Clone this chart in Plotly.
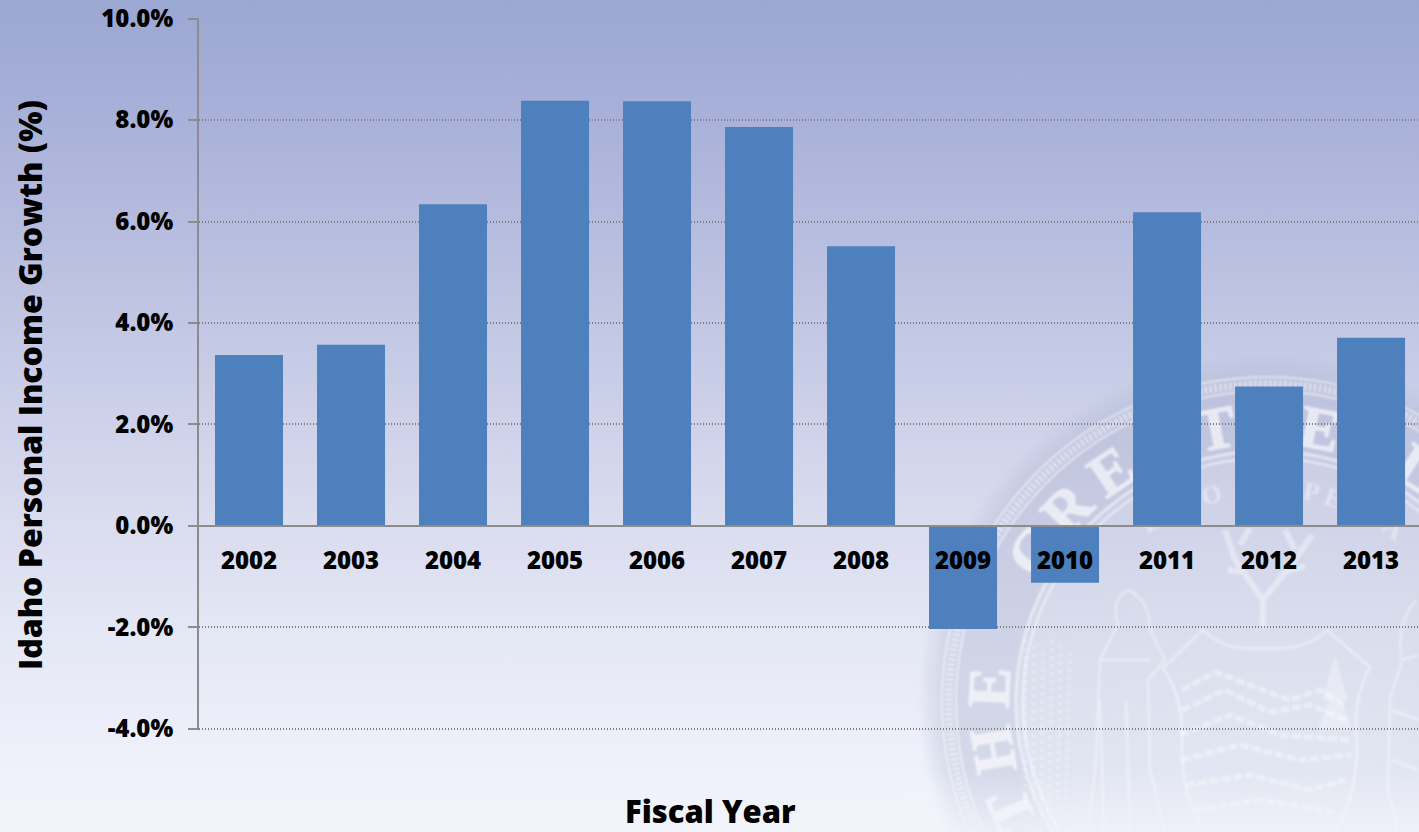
import base64
import math
import plotly.graph_objects as go

# Fiscal years and Idaho personal income growth, percent
fiscal_years = ["2002", "2003", "2004", "2005", "2006", "2007",
                "2008", "2009", "2010", "2011", "2012", "2013"]
income_growth = [3.37, 3.57, 6.34, 8.38, 8.37, 7.86,
                 5.51, -2.03, -1.12, 6.18, 2.75, 3.71]

# Vertical axis ticks
growth_ticks = [-4, -2, 0, 2, 4, 6, 8, 10]
growth_tick_labels = ["-4.0%", "-2.0%", "0.0%", "2.0%", "4.0%", "6.0%", "8.0%", "10.0%"]

# Backdrop: page gradient stops
gradient_stops = [(0.00, "#9BA8D2"), (0.12, "#A6AFD8"), (0.36, "#BFC4E2"),
                  (0.48, "#CBCFE8"), (0.63, "#DADCEF"), (0.77, "#E5E8F5"),
                  (0.91, "#EEF1FA"), (1.00, "#F2F4FB")]

# Lettering of the state seal, each glyph with its clock angle around the ring
seal_letters = [("T", -113), ("H", -100), ("E", -87), ("G", -57), ("R", -46), ("E", -34),
                ("A", -22), ("T", -10.6), ("S", 0.5), ("E", 11), ("A", 22), ("L", 33),
                ("O", 50), ("F", 61)]
motto_letters = [("E", -33), ("S", -27), ("T", -21), ("O", -15), ("P", -6), ("E", 0),
                 ("R", 6), ("P", 12), ("E", 18), ("T", 24), ("U", 30), ("A", 36)]

PAGE_W, PAGE_H = 1419, 832
PLOT_L, PLOT_T, PLOT_B = 199, 18, 102
CX, CY = 1267, 702


def glyph(ch, angle, radius, size):
    a = math.radians(angle)
    x = CX + radius * math.sin(a)
    y = CY - radius * math.cos(a)
    return (f'<text x="{x:.1f}" y="{y:.1f}" font-family="Liberation Serif" font-weight="bold" '
            f'font-size="{size}" text-anchor="middle" transform="rotate({angle} {x:.1f} {y:.1f})">{ch}</text>')


def backdrop_svg():
    stops = "".join(f'<stop offset="{o}" stop-color="{c}"/>' for o, c in gradient_stops)
    letters = "".join(glyph(c, a, 258, 60) for c, a in seal_letters)
    motto = "".join(glyph(c, a, 206, 26) for c, a in motto_letters)
    shield = ("M1163,668 L1203,630 Q1225,652 1263,648 Q1305,652 1327,630 L1370,667 "
              "Q1352,700 1357,740 Q1358,800 1330,840 L1210,840 Q1180,800 1182,740 Q1184,700 1163,668 Z")
    peaks = ("M1182,690 L1215,672 L1250,685 L1290,700 L1320,690 L1345,705 "
             "M1182,710 L1225,690 L1270,712 L1310,705 L1350,722 "
             "M1180,735 L1230,715 L1280,735 L1350,740 "
             "M1182,760 L1240,745 L1300,760 L1352,755 "
             "M1186,785 L1250,775 L1310,790 L1345,780 "
             "M1195,810 L1260,800 L1335,812")
    tree = "M1335,655 L1322,700 L1348,700 Z M1335,680 L1318,730 L1352,730 Z"
    woman = ("M1128,590 Q1110,600 1118,625 L1100,660 L1096,760 L1088,832 M1128,590 Q1150,600 1150,630 "
             "L1165,660 L1148,680 L1150,770 L1165,832 M1100,660 L1150,660 M1100,700 L1104,832 M1126,700 L1130,832")
    man = ("M1416,600 Q1395,625 1402,660 L1390,700 L1388,790 L1398,832 M1402,660 L1419,655 "
           "M1392,710 L1419,720 M1392,760 L1419,770")
    antlers = ("M1263,628 L1263,600 M1263,600 L1235,560 L1225,530 M1263,600 L1295,560 L1312,535 "
               "M1245,572 L1228,570 M1285,572 L1305,566 M1240,545 L1250,528 M1295,550 L1285,530")
    wreath = "".join(
        f'<path d="M{1025 + i * 9},{640 + (i % 3) * 6} L{1025 + i * 8},832" '
        f'stroke-dasharray="3 5" stroke-width="3" fill="none"/>' for i in range(6))
    svg = f'''<svg xmlns="http://www.w3.org/2000/svg" width="{PAGE_W}" height="{PAGE_H}" viewBox="0 0 {PAGE_W} {PAGE_H}">
<defs>
<linearGradient id="page" x1="0" y1="0" x2="0" y2="1">{stops}</linearGradient>
<radialGradient id="disc" gradientUnits="userSpaceOnUse" cx="{CX}" cy="{CY}" r="350">
<stop offset="0" stop-color="#B4BBD2" stop-opacity="0.20"/>
<stop offset="0.70" stop-color="#AEB6D0" stop-opacity="0.22"/>
<stop offset="0.72" stop-color="#A6AECC" stop-opacity="0.36"/>
<stop offset="0.92" stop-color="#A6AECC" stop-opacity="0.36"/>
<stop offset="1" stop-color="#A6AECC" stop-opacity="0"/>
</radialGradient>
<linearGradient id="fade" x1="0" y1="0" x2="0" y2="1">
<stop offset="0" stop-color="#F2F4FB" stop-opacity="0"/>
<stop offset="1" stop-color="#F2F4FB" stop-opacity="0.75"/>
</linearGradient>
<filter id="soft"><feGaussianBlur stdDeviation="0.9"/></filter>
<filter id="softer"><feGaussianBlur stdDeviation="1.3"/></filter>
</defs>
<rect width="{PAGE_W}" height="{PAGE_H}" fill="url(#page)"/>
<circle cx="{CX}" cy="{CY}" r="350" fill="url(#disc)"/>
<g filter="url(#soft)" fill="#FFFFFF" stroke="#FFFFFF" stroke-opacity="0.55" fill-opacity="0.62">
<circle cx="{CX}" cy="{CY}" r="325" fill="none" stroke-width="2"/>
<circle cx="{CX}" cy="{CY}" r="318" fill="none" stroke-width="8" stroke-dasharray="2.5 2.5"/>
<circle cx="{CX}" cy="{CY}" r="311" fill="none" stroke-width="2"/>
<circle cx="{CX}" cy="{CY}" r="251" fill="none" stroke-width="3"/>
<circle cx="{CX}" cy="{CY}" r="244" fill="none" stroke-width="2"/>
<g stroke-width="1.5" stroke-opacity="0.45">{letters}</g>
<g stroke="none" fill-opacity="0.4">{motto}</g>
</g>
<g filter="url(#softer)" fill="#FFFFFF" stroke="#FFFFFF" stroke-opacity="0.38" fill-opacity="0.3">
<path d="{shield}" fill="none" stroke-width="3"/>
<path d="{peaks}" fill="none" stroke-width="5" stroke-dasharray="9 3"/>
<path d="{tree}" stroke="none"/>
<path d="{woman}" fill="none" stroke-width="2.5"/>
<path d="{man}" fill="none" stroke-width="2.5"/>
<path d="{antlers}" fill="none" stroke-width="6"/>
{wreath}
</g>
<rect x="900" y="770" width="{PAGE_W - 900}" height="62" fill="url(#fade)"/>
</svg>'''
    return "data:image/svg+xml;base64," + base64.b64encode(svg.encode()).decode()


plot_w = PAGE_W - PLOT_L
plot_h = PAGE_H - PLOT_T - PLOT_B

FONT = "Open Sans"
GREY = "#8C8C8C"
TICK_FONT = dict(family=FONT, size=24, color="#000000", weight=800)

fig = go.Figure(go.Bar(
    x=fiscal_years,
    y=income_growth,
    width=2 / 3,
    marker=dict(color="#4D80BD", line=dict(width=0)),
    hoverinfo="x+y",
))

fig.update_layout(
    width=PAGE_W,
    height=PAGE_H,
    margin=dict(l=PLOT_L, r=0, t=PLOT_T, b=PLOT_B, autoexpand=False),
    paper_bgcolor="#DADCEF",
    plot_bgcolor="rgba(0,0,0,0)",
    showlegend=False,
    images=[dict(
        source=backdrop_svg(), xref="paper", yref="paper",
        x=-PLOT_L / plot_w, y=1 + PLOT_T / plot_h,
        sizex=PAGE_W / plot_w, sizey=PAGE_H / plot_h,
        xanchor="left", yanchor="top", sizing="stretch", layer="below",
    )],
    xaxis=dict(
        type="category",
        categoryorder="array",
        categoryarray=fiscal_years,
        range=[-0.4902, 11.47],
        anchor="free",
        position=4.02 / 14.03,
        showgrid=False,
        showline=True,
        linecolor=GREY,
        linewidth=2,
        ticks="",
        ticklabelstandoff=13,
        tickfont=TICK_FONT,
        fixedrange=True,
    ),
    yaxis=dict(
        range=[-4.02, 10.01],
        tickvals=growth_ticks,
        ticktext=growth_tick_labels,
        showgrid=True,
        gridcolor="#7E7E7E",
        gridwidth=1.5,
        griddash="1px,2px",
        zeroline=False,
        showline=True,
        linecolor=GREY,
        linewidth=2,
        ticks="outside",
        ticklen=9,
        tickwidth=2,
        tickcolor=GREY,
        ticklabelstandoff=10,
        tickfont=TICK_FONT,
        fixedrange=True,
    ),
    annotations=[
        dict(text="Idaho Personal Income Growth (%)", textangle=-90,
             xref="paper", yref="paper",
             x=-(PLOT_L - 29) / plot_w, y=1 - (385 - PLOT_T) / plot_h,
             xanchor="center", yanchor="middle", showarrow=False,
             font=dict(family=FONT, size=32, color="#000000", weight=800)),
        dict(text="Fiscal Year",
             xref="paper", yref="paper",
             x=(710 - PLOT_L) / plot_w, y=1 - (811 - PLOT_T) / plot_h,
             xanchor="center", yanchor="middle", showarrow=False,
             font=dict(family=FONT, size=31, color="#000000", weight=800)),
    ],
)

fig.write_html("out.html", config=dict(displayModeBar=False))
